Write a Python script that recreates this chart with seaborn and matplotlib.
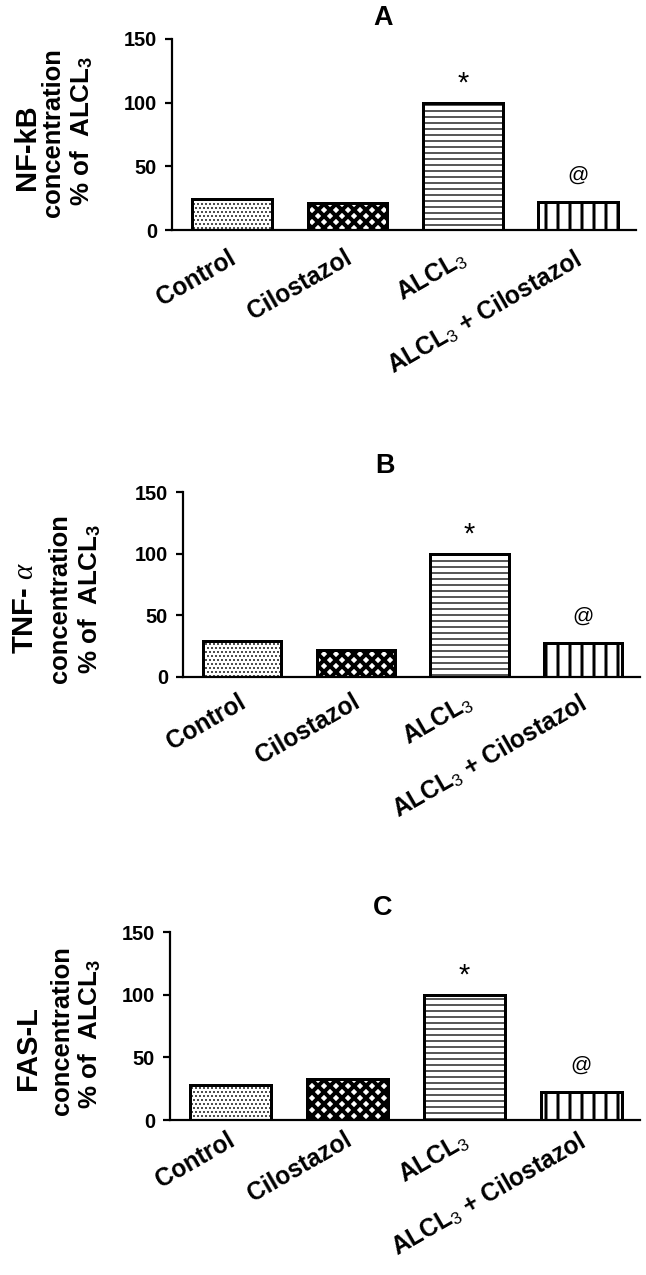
import numpy as np
import matplotlib.pyplot as plt
import seaborn as sns

# data (% of ALCL3 group)
groups = ["Control", "Cilostazol", "ALCL3", "ALCL3 + Cilostazol"]
tick_labels = ["Control", "Cilostazol", r"ALCL$_\mathrm{3}$", r"ALCL$_\mathrm{3}$ + Cilostazol"]
nfkb = [24.3, 21.5, 100, 22.0]
tnf_alpha = [29.2, 22.0, 100, 27.6]
fas_l = [27.9, 32.5, 100, 22.3]
panel_titles = ["A", "B", "C"]
marker_labels = ["", "", "*", "@"]
marker_names = [r"NF-kB", r"TNF- $\alpha$", r"FAS-L"]
yticks = [0, 50, 100, 150]

sns.set_style("ticks")
plt.rcParams["font.family"] = ["Liberation Sans", "DejaVu Sans"]
plt.rcParams["mathtext.fontset"] = "custom"
plt.rcParams["mathtext.rm"] = "Liberation Sans"
plt.rcParams["mathtext.bf"] = "Liberation Sans:bold"
plt.rcParams["mathtext.it"] = "Liberation Serif:italic"
for k in ["text.color", "axes.labelcolor", "xtick.color", "ytick.color", "axes.edgecolor"]:
    plt.rcParams[k] = "black"

W, H = 646, 1275
fig = plt.figure(figsize=(W / 72, H / 72), dpi=72)

# axes boxes in pixels: left, right, top, bottom
boxes = [(172, 636, 39, 230), (183, 640, 492, 677), (170, 640, 932, 1120)]
title_x = [0.455, 0.442, 0.453]
title_pad = [14, 19, 17]
xlab_pad = [16, 13, 8]
# y-label line centres (px): name, "concentration", "% of ALCL3"
label_pos = [
    [(27, 147), (53, 133), (82, 131)],
    [(25, 608), (60, 599), (90, 599)],
    [(28, 1048), (62, 1031), (90, 1034)],
]

hatches = ["...", "xx", "--", "|"]
hatch_lw = [1.0, 4.0, 1.3, 3.0]

for i, vals in enumerate([nfkb, tnf_alpha, fas_l]):
    l, r, t, b = boxes[i]
    ax = fig.add_axes([l / W, 1 - b / H, (r - l) / W, (b - t) / H])
    sns.barplot(x=groups, y=vals, ax=ax, color="white", saturation=1,
                edgecolor="black", linewidth=3, width=0.69)
    for p, h, lw in zip(ax.patches, hatches, hatch_lw):
        p.set_hatch(h)
        if hasattr(p, "set_hatch_linewidth"):
            p.set_hatch_linewidth(lw)

    ax.set_xlim(-0.52, 3.5)
    ax.set_ylim(0, 150)
    ax.set_yticks(yticks)
    # labels sit a little right of the bar centres (ticks are hidden)
    ax.set_xticks([k + 0.07 for k in range(len(groups))])
    ax.set_xticklabels(tick_labels, rotation=30, ha="right",
                       fontsize=24.5, fontweight="bold")
    ax.tick_params(axis="x", length=0, pad=xlab_pad[i])
    ax.tick_params(axis="y", length=7, width=2.2, pad=8, labelsize=20)
    for lab in ax.get_yticklabels():
        lab.set_fontweight("bold")
    ax.set_xlabel("")
    ax.set_ylabel("")
    sns.despine(ax=ax)
    for s in ["left", "bottom"]:
        ax.spines[s].set_linewidth(2.2)

    ax.set_title(panel_titles[i], x=title_x[i], pad=title_pad[i],
                 fontsize=27, fontweight="bold")

    for j, m in enumerate(marker_labels):
        if m == "*":
            ax.annotate(m, (j, vals[j]), xytext=(0, 11), textcoords="offset points",
                        ha="center", va="baseline", fontsize=29)
        elif m == "@":
            ax.annotate(m, (j, vals[j]), xytext=(0, 21), textcoords="offset points",
                        ha="center", va="baseline", fontsize=21)

    (x0, y0), (x1, y1), (x2, y2) = label_pos[i]
    fig.text(x0 / W, 1 - y0 / H, marker_names[i], rotation=90, ha="center",
             va="center", fontsize=29, fontweight="bold")
    fig.text(x1 / W, 1 - y1 / H, "concentration", rotation=90, ha="center",
             va="center", fontsize=25.5, fontweight="bold")
    fig.text(x2 / W, 1 - y2 / H, r"% of  ALCL$_\mathbf{3}$", rotation=90,
             ha="center", va="center", fontsize=26, fontweight="bold")

fig.savefig("out.png", dpi=72)
